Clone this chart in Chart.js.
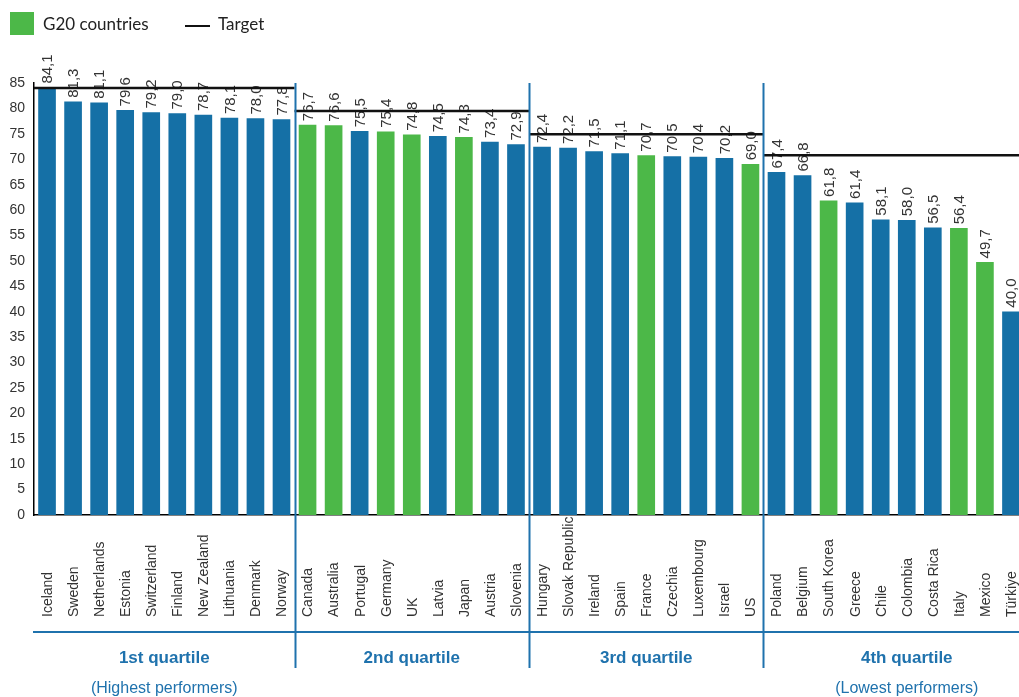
<!DOCTYPE html>
<html>
<head>
<meta charset="utf-8">
<script src="https://cdn.jsdelivr.net/npm/chart.js@4.4.1/dist/chart.umd.min.js"></script>
<style>
  html, body { margin: 0; padding: 0; background: #fff; overflow: hidden; }
  #wrap { position: relative; width: 1024px; height: 697px; }
</style>
</head>
<body>
<div id="wrap"><canvas id="myChart"></canvas></div>
<script>
// data
const countries = ['Iceland', 'Sweden', 'Netherlands', 'Estonia', 'Switzerland', 'Finland', 'New Zealand', 'Lithuania', 'Denmark', 'Norway',
  'Canada', 'Australia', 'Portugal', 'Germany', 'UK', 'Latvia', 'Japan', 'Austria', 'Slovenia',
  'Hungary', 'Slovak Republic', 'Ireland', 'Spain', 'France', 'Czechia', 'Luxembourg', 'Israel', 'US',
  'Poland', 'Belgium', 'South Korea', 'Greece', 'Chile', 'Colombia', 'Costa Rica', 'Italy', 'Mexico', 'Türkiye'];
const scores = [84.1, 81.3, 81.1, 79.6, 79.2, 79.0, 78.7, 78.1, 78.0, 77.8,
  76.7, 76.6, 75.5, 75.4, 74.8, 74.5, 74.3, 73.4, 72.9,
  72.4, 72.2, 71.5, 71.1, 70.7, 70.5, 70.4, 70.2, 69.0,
  67.4, 66.8, 61.8, 61.4, 58.1, 58.0, 56.5, 56.4, 49.7, 40.0];
const g20 = ['Canada', 'Australia', 'Germany', 'UK', 'Japan', 'France', 'US', 'South Korea', 'Italy', 'Mexico'];

const quartileStart = [0, 10, 19, 28];   // first country index of each quartile
const quartileEnd = [10, 19, 28, 38];
const targets = [84.0, 79.5, 74.9, 70.8];
const quartileNames = ['1st quartile', '2nd quartile', '3rd quartile', '4th quartile'];
const quartileNotes = ['(Highest performers)', '', '', '(Lowest performers)'];
const quartileLabelAt = [4.5, 14, 23, 33]; // category index the quartile text sits over

const yMax = 85;
const yStep = 5;

const BLUE = '#1570a6';
const GREEN = '#4cb848';
const LINEBLUE = '#1f72ad';
const TEXT = '#333333';

// target line as broken segments on a hidden linear x axis
let targetPoints = [];
targets.forEach((t, i) => {
  if (i > 0) targetPoints.push({ x: quartileStart[i], y: null });
  targetPoints.push({ x: quartileStart[i], y: t });
  targetPoints.push({ x: quartileEnd[i], y: t });
});

const fmt = v => v.toFixed(1).replace('.', ',');

const extras = {
  id: 'extras',
  afterDatasetDraw(chart, args) {
    if (args.meta.type !== 'bar') return;
    const ctx = chart.ctx;
    ctx.save();
    ctx.font = '15px "Liberation Sans", Arial, sans-serif';
    ctx.fillStyle = TEXT;
    ctx.textAlign = 'left';
    ctx.textBaseline = 'middle';
    args.meta.data.forEach((bar, i) => {
      ctx.save();
      ctx.translate(bar.x + 1, bar.y - 4);
      ctx.rotate(-Math.PI / 2);
      ctx.fillText(fmt(scores[i]), 0, 0);
      ctx.restore();
    });
    ctx.restore();
  },
  afterDraw(chart) {
    const ctx = chart.ctx;
    const x = chart.scales.x;
    const area = chart.chartArea;
    ctx.save();

    // country names
    ctx.font = '14px "Liberation Sans", Arial, sans-serif';
    ctx.fillStyle = TEXT;
    ctx.textAlign = 'left';
    ctx.textBaseline = 'middle';
    countries.forEach((c, i) => {
      ctx.save();
      ctx.translate(x.getPixelForValue(i) + 1, 617);
      ctx.rotate(-Math.PI / 2);
      ctx.fillText(c, 0, 0);
      ctx.restore();
    });

    // quartile frame
    ctx.strokeStyle = LINEBLUE;
    ctx.lineWidth = 2;
    ctx.beginPath();
    ctx.moveTo(area.left - 1, 632);
    ctx.lineTo(chart.width, 632);
    for (let q = 1; q < 4; q++) {
      const px = Math.round(x.getPixelForValue(quartileStart[q] - 0.5)) + 0.5;
      ctx.moveTo(px, area.top);
      ctx.lineTo(px, 668);
    }
    ctx.stroke();

    ctx.fillStyle = LINEBLUE;
    ctx.textAlign = 'center';
    ctx.textBaseline = 'alphabetic';
    quartileNames.forEach((n, q) => {
      const cx = x.getPixelForValue(quartileLabelAt[q]);
      ctx.font = 'bold 17px "Liberation Sans", Arial, sans-serif';
      ctx.fillText(n, cx, 663);
      if (quartileNotes[q]) {
        ctx.font = '16px "Liberation Sans", Arial, sans-serif';
        ctx.fillText(quartileNotes[q], cx, 693);
      }
    });

    // legend
    ctx.fillStyle = GREEN;
    ctx.fillRect(10, 12, 24, 23);
    ctx.fillStyle = '#222';
    ctx.font = '17px Lato, "Noto Sans", sans-serif';
    ctx.textAlign = 'left';
    ctx.textBaseline = 'middle';
    ctx.fillText('G20 countries', 43, 25);
    ctx.strokeStyle = '#111';
    ctx.lineWidth = 2;
    ctx.beginPath();
    ctx.moveTo(185, 26);
    ctx.lineTo(210, 26);
    ctx.stroke();
    ctx.fillText('Target', 218, 25);

    ctx.restore();
  }
};

const ctx = document.getElementById('myChart');
let myChart = new Chart(ctx, {
  data: {
    labels: countries,
    datasets: [{
      type: 'bar',
      label: 'Score',
      data: scores,
      backgroundColor: countries.map(c => g20.includes(c) ? GREEN : BLUE),
      barThickness: 17,
      grouped: false,
      order: 2
    }, {
      type: 'line',
      label: 'Target',
      data: targetPoints,
      xAxisID: 'x2',
      borderColor: '#111',
      borderWidth: 2.5,
      pointRadius: 0,
      spanGaps: false,
      clip: false,
      order: 1
    }]
  },
  options: {
    responsive: true,
    maintainAspectRatio: false,
    animation: false,
    layout: { padding: { top: 83, bottom: 182, left: 0, right: 0 } },
    plugins: {
      legend: { display: false },
      tooltip: { enabled: false }
    },
    scales: {
      x: {
        type: 'category',
        offset: true,
        ticks: { display: false },
        grid: { display: false, drawTicks: false },
        border: { display: true, color: '#000', width: 1.5 },
        afterFit(scale) { scale.height = 0; }
      },
      x2: {
        type: 'linear',
        min: 0,
        max: countries.length,
        display: false
      },
      y: {
        min: 0,
        max: yMax,
        ticks: {
          stepSize: yStep,
          padding: 9,
          color: TEXT,
          font: { family: '"Liberation Sans", Arial, sans-serif', size: 14 }
        },
        grid: { display: false, drawTicks: false },
        border: { display: true, color: '#000', width: 1.5 },
        afterFit(scale) { scale.width = 34; }
      }
    }
  },
  plugins: [extras]
});
</script>
</body>
</html>
